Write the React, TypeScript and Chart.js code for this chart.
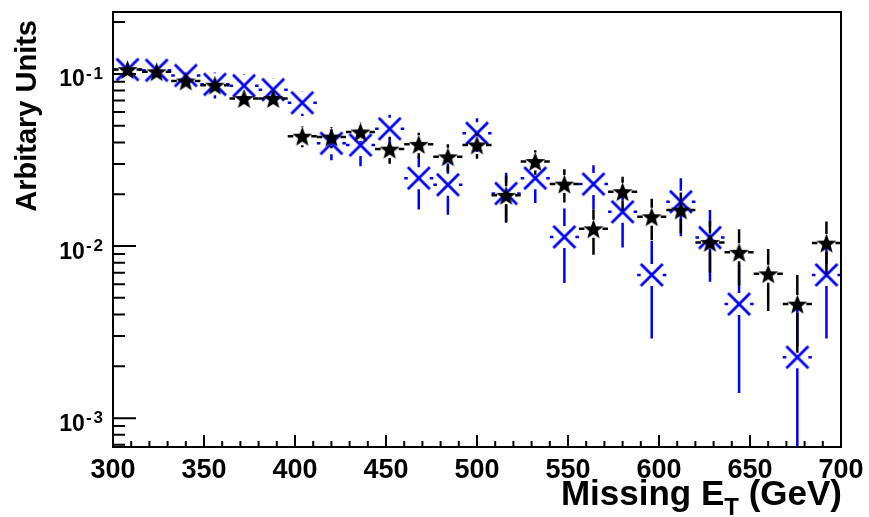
import React, { useEffect, useRef } from 'react';
import { Chart, registerables } from 'chart.js';

Chart.register(...registerables);

// ---------------- data ----------------
const binCenters = [308, 324, 340, 356, 372, 388, 404, 420, 436, 452, 468, 484, 500, 516, 532, 548, 564, 580, 596, 612, 628, 644, 660, 676, 692];
const binHalfWidth = 8;

const blackValues = [0.106, 0.103, 0.091, 0.086, 0.072, 0.072, 0.0435, 0.043, 0.046, 0.0366, 0.039, 0.033, 0.0387, 0.0197, 0.031, 0.0229, 0.0126, 0.0207, 0.0148, 0.0162, 0.0105, 0.0092, 0.0069, 0.0046, 0.0104];
const blackErrors = [0.01, 0.01, 0.009, 0.009, 0.008, 0.008, 0.006, 0.006, 0.006, 0.0065, 0.0065, 0.006, 0.0065, 0.006, 0.005, 0.005, 0.0037, 0.0046, 0.004, 0.0043, 0.0035, 0.0033, 0.0027, 0.0022, 0.0035];

const blueValues = [0.106, 0.105, 0.098, 0.087, 0.0855, 0.081, 0.068, 0.0395, 0.0386, 0.048, 0.0248, 0.0227, 0.0452, 0.0202, 0.0248, 0.0113, 0.0229, 0.0158, 0.0068, 0.0181, 0.0112, 0.0046, null, 0.00226, 0.0068];
const blueErrors = [0.013, 0.013, 0.013, 0.015, 0.014, 0.013, 0.011, 0.008, 0.0095, 0.01, 0.0085, 0.0075, 0.01, 0.0065, 0.007, 0.0052, 0.0066, 0.006, 0.0039, 0.0067, 0.005, 0.0032, null, 0.0022, 0.0039];

const xMin = 300;
const xMax = 700;
const yMin = 0.00068;
const yMax = 0.229;
const xTickLabels = [300, 350, 400, 450, 500, 550, 600, 650, 700];
const yDecadeExponents = [-1, -2, -3];

const yTitle = 'Arbitary Units';
const xTitleMain = 'Missing E';
const xTitleSub = 'T';
const xTitleTail = ' (GeV)';

const FONT = '"Liberation Sans", Arial, Helvetica, sans-serif';
const BLUE = '#0000ff';

function makeStarImage(R: number, innerRatio: number, color: string) {
  const size = Math.ceil(2 * R + 4);
  const c = document.createElement('canvas');
  c.width = size;
  c.height = size;
  const g = c.getContext('2d')!;
  g.fillStyle = color;
  g.beginPath();
  for (let i = 0; i < 10; i++) {
    const r = i % 2 === 0 ? R : R * innerRatio;
    const a = -Math.PI / 2 + (i * Math.PI) / 5;
    const px = size / 2 + r * Math.cos(a);
    const py = size / 2 + 1 + r * Math.sin(a);
    if (i === 0) g.moveTo(px, py);
    else g.lineTo(px, py);
  }
  g.closePath();
  g.fill();
  return c;
}

function makeXImage(half: number, lw: number, color: string) {
  const size = Math.ceil(2 * half + 6);
  const c = document.createElement('canvas');
  c.width = size;
  c.height = size;
  const g = c.getContext('2d')!;
  g.strokeStyle = color;
  g.lineWidth = lw;
  const m = size / 2;
  g.beginPath();
  g.moveTo(m - half, m - half);
  g.lineTo(m + half, m + half);
  g.moveTo(m - half, m + half);
  g.lineTo(m + half, m - half);
  g.stroke();
  return c;
}

const errorBarPlugin = {
  id: 'rootErrorBars',
  beforeDatasetDraw(chart: any, args: any) {
    const ds = chart.data.datasets[args.index];
    const xs = chart.scales.x;
    const ys = chart.scales.y;
    const ca = chart.chartArea;
    const ctx = chart.ctx;
    ctx.save();
    ctx.beginPath();
    ctx.rect(ca.left, ca.top, ca.right - ca.left, ca.bottom - ca.top);
    ctx.clip();
    ctx.strokeStyle = ds.errColor;
    ctx.lineWidth = 2.5;
    const gap = ds.errGap;
    ds.data.forEach((p: any) => {
      const cx = xs.getPixelForValue(p.x);
      const cy = ys.getPixelForValue(p.y);
      const xl = xs.getPixelForValue(p.x - binHalfWidth);
      const xr = xs.getPixelForValue(p.x + binHalfWidth);
      const yt = ys.getPixelForValue(p.y + p.err);
      const lo = p.y - p.err;
      const yb = lo > 0 ? ys.getPixelForValue(lo) : ca.bottom + 20;
      ctx.beginPath();
      if (xl < cx - gap) {
        ctx.moveTo(xl, cy);
        ctx.lineTo(cx - gap, cy);
      }
      if (xr > cx + gap) {
        ctx.moveTo(cx + gap, cy);
        ctx.lineTo(xr, cy);
      }
      if (yt < cy - gap) {
        ctx.moveTo(cx, yt);
        ctx.lineTo(cx, cy - gap);
      }
      if (yb > cy + gap) {
        ctx.moveTo(cx, cy + gap);
        ctx.lineTo(cx, yb);
      }
      ctx.stroke();
    });
    ctx.restore();
  },
};

const axesPlugin = {
  id: 'rootAxes',
  afterDraw(chart: any) {
    const ctx = chart.ctx;
    const ca = chart.chartArea;
    const xs = chart.scales.x;
    const ys = chart.scales.y;
    ctx.save();
    ctx.strokeStyle = '#000';
    ctx.fillStyle = '#000';
    ctx.lineWidth = 2;
    ctx.strokeRect(ca.left, ca.top, ca.right - ca.left, ca.bottom - ca.top);

    // y ticks
    ctx.lineWidth = 2;
    ctx.beginPath();
    for (let e = -4; e <= 0; e++) {
      for (let m = 1; m <= 9; m++) {
        const v = m * Math.pow(10, e);
        if (v < yMin || v > yMax) continue;
        const y = ys.getPixelForValue(v);
        const len = m === 1 ? 23 : 12;
        ctx.moveTo(ca.left, y);
        ctx.lineTo(ca.left + len, y);
      }
    }
    // x ticks
    for (let v = xMin; v <= xMax; v += 10) {
      const x = xs.getPixelForValue(v);
      const len = (v - xMin) % 50 === 0 ? 12 : 6;
      ctx.moveTo(x, ca.bottom);
      ctx.lineTo(x, ca.bottom - len);
    }
    ctx.stroke();

    // y labels 10^n
    yDecadeExponents.forEach((e) => {
      const y = ys.getPixelForValue(Math.pow(10, e));
      let xr = ca.left - 10;
      ctx.textAlign = 'right';
      ctx.textBaseline = 'alphabetic';
      ctx.font = `bold 17px ${FONT}`;
      const digit = String(-e);
      ctx.fillText(digit, xr, y + 5);
      xr -= ctx.measureText(digit).width + 2;
      ctx.fillText('-', xr, y + 5);
      xr -= ctx.measureText('-').width + 1;
      ctx.font = `bold 23px ${FONT}`;
      ctx.fillText('10', xr, y + 12.5);
    });

    // x labels
    ctx.font = `bold 27px ${FONT}`;
    ctx.textAlign = 'center';
    ctx.textBaseline = 'alphabetic';
    xTickLabels.forEach((v) => {
      const x = xs.getPixelForValue(v);
      ctx.fillText(String(v), x, 478);
    });

    // x title
    const baseY = 505;
    const mainFont = `bold 35px ${FONT}`;
    const subFont = `bold 24px ${FONT}`;
    ctx.font = mainFont;
    const tailW = ctx.measureText(xTitleTail).width;
    ctx.font = subFont;
    const subW = ctx.measureText(xTitleSub).width;
    let xr = ca.right + 1;
    ctx.textAlign = 'left';
    ctx.font = mainFont;
    ctx.fillText(xTitleTail, xr - tailW, baseY);
    xr -= tailW;
    ctx.font = subFont;
    ctx.fillText(xTitleSub, xr - subW, baseY + 10);
    xr -= subW;
    ctx.font = mainFont;
    ctx.textAlign = 'right';
    ctx.fillText(xTitleMain, xr, baseY);

    // y title
    ctx.save();
    ctx.translate(36, 20);
    ctx.rotate(-Math.PI / 2);
    ctx.font = `bold 29px ${FONT}`;
    ctx.textAlign = 'right';
    ctx.textBaseline = 'alphabetic';
    ctx.fillText(yTitle, 0, 0);
    ctx.restore();

    ctx.restore();
  },
};

export default function App() {
  const canvasRef = useRef<HTMLCanvasElement | null>(null);

  useEffect(() => {
    const canvas = canvasRef.current;
    if (!canvas) return;
    const starImg = makeStarImage(10.5, 0.42, '#000');
    const xImg = makeXImage(11, 2.8, BLUE);

    const blackData = binCenters.map((x, i) => ({ x, y: blackValues[i], err: blackErrors[i] }));
    const blueData = binCenters
      .map((x, i) => ({ x, y: blueValues[i], err: blueErrors[i] }))
      .filter((p) => p.y !== null && p.y > 0);

    const chart = new Chart(canvas, {
      type: 'scatter',
      data: {
        datasets: [
          {
            label: 'black',
            data: blackData,
            pointStyle: starImg,
            showLine: false,
            errColor: '#000',
            errGap: 9,
          } as any,
          {
            label: 'blue',
            data: blueData,
            pointStyle: xImg,
            showLine: false,
            errColor: BLUE,
            errGap: 11,
          } as any,
        ],
      },
      options: {
        animation: false,
        responsive: false,
        devicePixelRatio: 1,
        events: [],
        layout: { padding: { left: 113, right: 28, top: 12, bottom: 70 } },
        plugins: { legend: { display: false }, tooltip: { enabled: false } },
        scales: {
          x: { type: 'linear', min: xMin, max: xMax, display: false },
          y: { type: 'logarithmic', min: yMin, max: yMax, display: false },
        },
      },
      plugins: [errorBarPlugin, axesPlugin],
    });
    return () => chart.destroy();
  }, []);

  return (
    <div style={{ position: 'absolute', left: 0, top: 0, width: 869, height: 517, background: '#fff' }}>
      <canvas ref={canvasRef} width={869} height={517} style={{ display: 'block' }} />
    </div>
  );
}
